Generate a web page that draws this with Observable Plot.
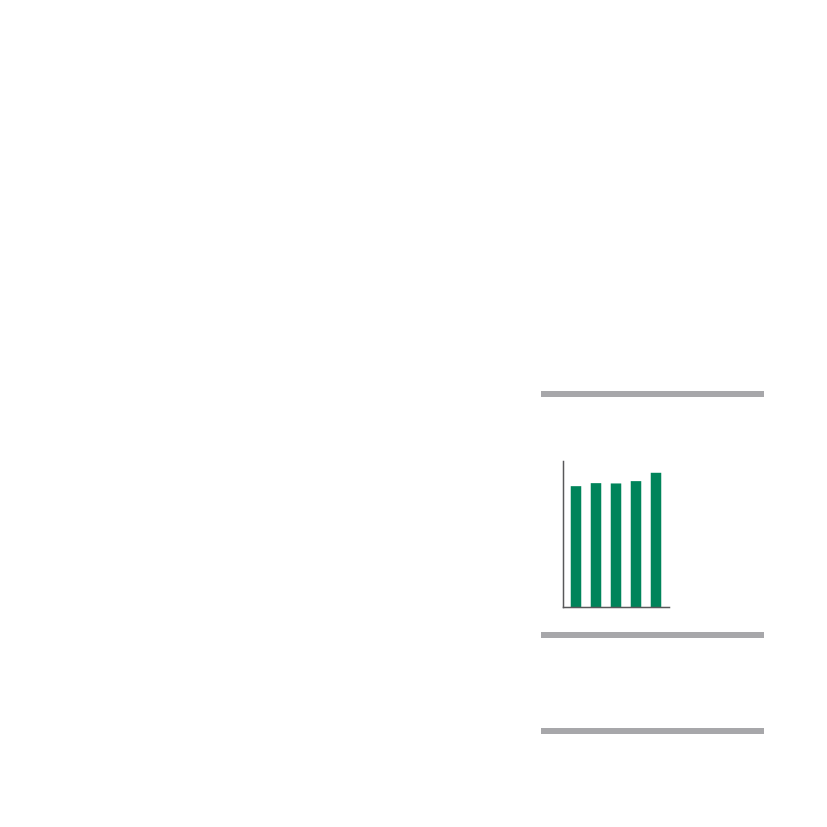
<!DOCTYPE html>
<html>
<head>
<meta charset="utf-8">
<script src="https://cdn.jsdelivr.net/npm/d3@7"></script>
<script src="https://cdn.jsdelivr.net/npm/@observablehq/plot@0.6"></script>
<style>
  html, body { margin: 0; padding: 0; background: #fff; }
  #page { position: relative; width: 827px; height: 827px; overflow: hidden; background: #fff; font-family: "Liberation Sans", Arial, sans-serif; }
  .sep { position: absolute; left: 541px; width: 223px; height: 6px; background: #a7a7aa; }
  #chart { position: absolute; left: 553px; top: 451px; }
</style>
</head>
<body>
<div id="page">
  <div class="sep" style="top:391px"></div>
  <div class="sep" style="top:632px"></div>
  <div class="sep" style="top:728px"></div>
  <div id="chart"></div>
</div>
<script>
const categories = ["1", "2", "3", "4", "5"];
const values = [120, 123, 122.7, 125, 133.3];
const yMax = 145;

const data = categories.map((c, i) => ({cat: c, value: values[i]}));

const chart = Plot.plot({
  width: 126,
  height: 166,
  marginLeft: 10,
  marginRight: 10,
  marginTop: 10,
  marginBottom: 10,
  style: {background: "transparent", overflow: "visible"},
  x: {type: "band", domain: categories, paddingInner: 0.475, paddingOuter: 0.3875, round: false, axis: null},
  y: {domain: [0, yMax], axis: null},
  marks: [
    Plot.barY(data, {x: "cat", y: "value", fill: "#00845a"}),
    Plot.frame({anchor: "left", stroke: "#58585a", strokeWidth: 1.5}),
    Plot.frame({anchor: "bottom", stroke: "#58585a", strokeWidth: 1.5})
  ]
});
document.getElementById("chart").appendChild(chart);
</script>
</body>
</html>
